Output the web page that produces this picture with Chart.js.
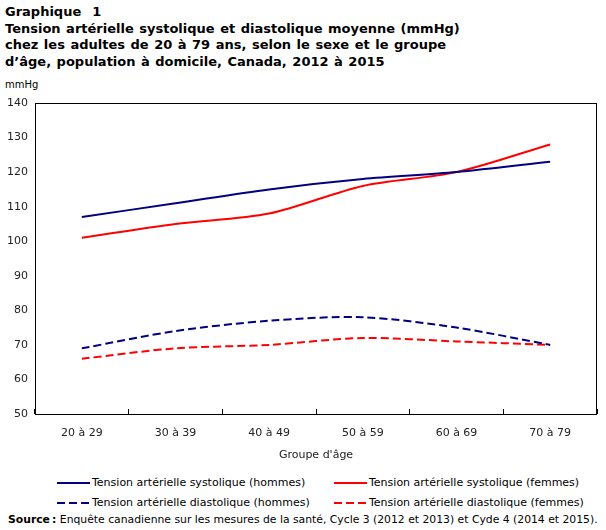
<!DOCTYPE html>
<html>
<head>
<meta charset="utf-8">
<script src="https://cdn.jsdelivr.net/npm/chart.js@4/dist/chart.umd.min.js"></script>
<style>
  html, body { margin: 0; padding: 0; background: #fff; }
  body { width: 606px; height: 530px; position: relative; overflow: hidden; font-family: "DejaVu Sans", Verdana, sans-serif; color: #000; }
  #title { position: absolute; left: 5px; top: 4px; font-weight: bold; font-size: 13px; line-height: 16.5px; word-spacing: 1px; white-space: nowrap; }
  #unit { position: absolute; left: 5px; top: 79px; font-size: 10px; line-height: 12px; }
  #chartWrap { position: absolute; left: 0; top: 0; width: 606px; height: 470px; }
  .leg { position: absolute; font-size: 11px; line-height: 13px; white-space: nowrap; display: flex; align-items: center; }
  .leg svg { margin-right: 2px; }
  #source { position: absolute; left: 8px; top: 513px; font-size: 10.8px; line-height: 13px; white-space: nowrap; }
</style>
</head>
<body>
<div id="title">Graphique&nbsp; 1<br>Tension artérielle systolique et diastolique moyenne (mmHg)<br>chez les adultes de 20 à 79 ans, selon le sexe et le groupe<br>d’âge, population à domicile, Canada, 2012 à 2015</div>
<div id="unit">mmHg</div>
<div id="chartWrap"><canvas id="c" width="606" height="470"></canvas></div>
<div id="legend"></div>
<div id="source"><b>Source&thinsp;:</b> Enquête canadienne sur les mesures de la santé, Cycle 3 (2012 et 2013) et Cyde 4 (2014 et 2015).</div>
<script>
const categories = ["20 à 29", "30 à 39", "40 à 49", "50 à 59", "60 à 69", "70 à 79"];
const systoliqueHommes = [107, 111, 115, 118, 120, 123];
const systoliqueFemmes = [101, 105, 108, 116, 120, 128];
const diastoliqueHommes = [69, 74, 77, 78, 75, 70];
const diastoliqueFemmes = [66, 69, 70, 72, 71, 70];
const seriesNames = [
  "Tension artérielle systolique (hommes)",
  "Tension artérielle systolique (femmes)",
  "Tension artérielle diastolique (hommes)",
  "Tension artérielle diastolique (femmes)"
];
const yMin = 50, yMax = 140, yStep = 10;
const axisTitle = "Groupe d'âge";

const NAVY = "#000080", RED = "#ff0000";
const DASH = [8, 4];

const datasets = [
  { label: seriesNames[0], data: systoliqueHommes, borderColor: NAVY, borderDash: [] },
  { label: seriesNames[1], data: systoliqueFemmes, borderColor: RED, borderDash: [] },
  { label: seriesNames[2], data: diastoliqueHommes, borderColor: NAVY, borderDash: DASH },
  { label: seriesNames[3], data: diastoliqueFemmes, borderColor: RED, borderDash: DASH }
].map(d => Object.assign(d, { borderWidth: 2, pointRadius: 0, pointHoverRadius: 0, fill: false, tension: 0.3 }));

const framePlugin = {
  id: 'frame',
  beforeDatasetsDraw(chart) {
    const a = chart.chartArea, ctx = chart.ctx;
    ctx.save();
    ctx.strokeStyle = '#000';
    ctx.lineWidth = 1;
    ctx.strokeRect(Math.round(a.left) + 0.5, Math.round(a.top) + 0.5, Math.round(a.right - a.left) - 1, Math.round(a.bottom - a.top));
    ctx.restore();
  }
};

const tickFont = { family: "DejaVu Sans", size: 11 };
new Chart(document.getElementById('c'), {
  type: 'line',
  data: { labels: categories, datasets },
  options: {
    responsive: false,
    animation: false,
    events: [],
    layout: { padding: { top: 103, right: 9, bottom: 0, left: 0 } },
    plugins: { legend: { display: false }, tooltip: { enabled: false } },
    scales: {
      x: {
        offset: true,
        grid: { display: true, drawOnChartArea: false, drawTicks: true, tickLength: -5, offset: true, color: '#000', lineWidth: 1 },
        border: { display: false },
        ticks: { font: tickFont, color: '#222', padding: 18, maxRotation: 0, autoSkip: false },
        title: { display: true, text: axisTitle, font: tickFont, color: '#222', padding: { top: 0, bottom: 8 } },
        afterFit(s) { s.height = 56; }
      },
      y: {
        min: yMin, max: yMax,
        grid: { display: false, drawTicks: false },
        border: { display: false },
        ticks: { stepSize: yStep, font: tickFont, color: '#222', padding: 7 },
        afterFit(s) { s.width = 35; }
      }
    }
  },
  plugins: [framePlugin]
});

// HTML legend
const legendPos = [[57, 476], [334, 476], [57, 496], [334, 496]];
const legendEl = document.getElementById('legend');
datasets.forEach((d, i) => {
  const div = document.createElement('div');
  div.className = 'leg';
  div.style.left = legendPos[i][0] + 'px';
  div.style.top = legendPos[i][1] + 'px';
  const dash = d.borderDash.length ? ` stroke-dasharray="${d.borderDash.join(',')}"` : '';
  div.innerHTML = `<svg width="33" height="4"><line x1="0" y1="2" x2="33" y2="2" stroke="${d.borderColor}" stroke-width="2"${dash}/></svg><span>${d.label}</span>`;
  legendEl.appendChild(div);
});
</script>
</body>
</html>
